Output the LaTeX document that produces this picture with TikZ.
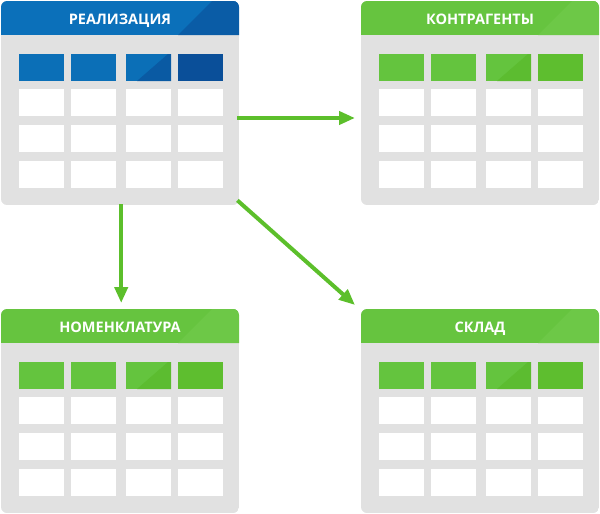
\documentclass[tikz,border=0pt]{standalone}
\usepackage{fontspec}
\setmainfont{Open Sans}
\usetikzlibrary{arrows.meta}

% palette
\definecolor{tablegray}{HTML}{E1E1E1}
\definecolor{linkgreen}{HTML}{5CBF2B}
\definecolor{blueHead}{HTML}{0B70BA}
\definecolor{blueHeadB}{HTML}{0A5CA6}
\definecolor{blueCell}{HTML}{0B6FB7}
\definecolor{blueCellB}{HTML}{0A5AA3}
\definecolor{blueCellC}{HTML}{0A4F99}
\definecolor{greenHead}{HTML}{66C43F}
\definecolor{greenHeadB}{HTML}{6DC847}
\definecolor{greenCell}{HTML}{64C43E}
\definecolor{greenCellB}{HTML}{5CBC30}
\definecolor{greenCellC}{HTML}{5EBE2F}

\tikzset{
  tablebox/.style={inner sep=0pt, minimum width=238pt, minimum height=204pt, anchor=north west},
  titletext/.style={text=white, anchor=base, inner sep=0pt,
                    font=\bfseries\fontsize{14.5}{16}\selectfont},
  emptycell/.style={fill=white},
  link/.style={draw=linkgreen, line width=4pt,
               -{Triangle[length=16pt,width=13pt]}},
}

% #1 node name, #2 x, #3 y, #4 title, #5 colour prefix
\newcommand\dbtable[5]{%
  \node[tablebox] (#1) at (#2,#3) {};
  \begin{scope}[shift={(#2,#3)}]
    \begin{scope}
      \clip[rounded corners=6pt] (0,0) rectangle (238,204);
      \fill[tablegray] (0,0) rectangle (238,204);
      \fill[#5Head] (0,0) rectangle (238,34);
      \fill[#5HeadB] (177,34) -- (211,0) -- (238,0) -- (238,34) -- cycle;
    \end{scope}
    \node[titletext] (#1-title) at (119,23) {#4};
    % header row of the grid
    \fill[#5Cell] (18,53) rectangle (63,80);
    \fill[#5Cell] (70,53) rectangle (115,80);
    \fill[#5Cell] (125,53) rectangle (170,80);
    \fill[#5CellB] (136,80) -- (167,53) -- (170,53) -- (170,80) -- cycle;
    \fill[#5CellC] (177,53) rectangle (222,80);
    % body rows
    \foreach \y in {88,124,160} {
      \foreach \x/\w in {18/45,70/45,125/45,177/45} {
        \fill[emptycell] (\x,\y) rectangle ++(\w,27);
      }
    }
  \end{scope}
}

\begin{document}
\begin{tikzpicture}[x=1pt,y=-1pt]
  \useasboundingbox (0,0) rectangle (600,514);

  \dbtable{real}{1}{1}{РЕАЛИЗАЦИЯ}{blue}
  \dbtable{kontr}{361}{1}{КОНТРАГЕНТЫ}{green}
  \dbtable{nom}{1}{309}{НОМЕНКЛАТУРА}{green}
  \dbtable{sklad}{361}{309}{СКЛАД}{green}

  % links between the tables
  \draw[link] ([shift={(-2,117)}]real.north east) -- ([shift={(-6,117)}]kontr.north west);
  \draw[link] ([shift={(1,-1)}]real.south) -- ([shift={(1,-6)}]nom.north);
  \draw[link] ([shift={(-2,-5)}]real.south east) -- ([shift={(-6,-4)}]sklad.north west);
\end{tikzpicture}
\end{document}
